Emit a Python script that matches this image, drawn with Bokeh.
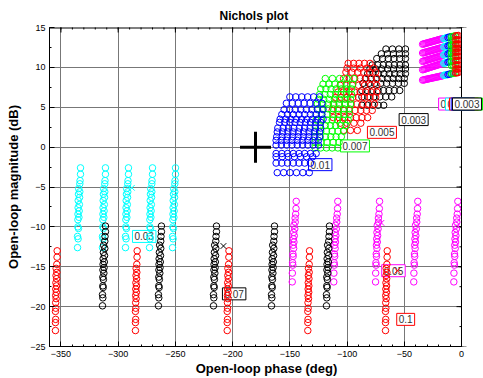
import numpy as np
from bokeh.plotting import figure
from bokeh.models import Range1d, FixedTicker, Label
from bokeh.embed import file_html
from bokeh.resources import INLINE

# ---------------- axis ticks ----------------
x_lim = [-360, 0]
y_lim = [-25, 15]
x_ticks = [-350, -300, -250, -200, -150, -100, -50, 0]
x_minor = list(range(-360, 1, 10))
y_ticks = [-25, -20, -15, -10, -5, 0, 5, 10, 15]
y_minor = [v * 2.5 for v in range(-10, 7)]

# ---------------- low-frequency templates (rows of phase points) ----------------
# 0.003 rad/s (black)
black_rows_mag = [12.3, 11.7, 11.1, 10.3, 9.8, 9.2, 8.6, 8.0, 7.1, 6.3, 5.25]
black_rows_left = [-66, -70, -74, -78, -80, -82, -84, -86, -87, -87, -87]
black_rows_right = [-49, -49, -49, -49, -49, -49, -50, -50, -54, -61, -68]
black_rows_n = [4, 5, 6, 7, 7, 8, 8, 8, 8, 6, 5]
# 0.005 rad/s (red)
red_rows_mag = [10.5, 9.9, 9.4, 8.6, 7.75, 6.9, 6.25, 5.4, 4.6, 3.7, 3.0, 2.1]
red_rows_left = [-99, -100, -101, -103, -106, -108, -110, -112, -113, -112, -106, -103]
red_rows_right = [-80, -77, -75, -74, -74, -74, -75, -76, -78, -82, -88, -91]
red_rows_n = [5, 5, 6, 7, 7, 8, 8, 8, 8, 7, 4, 3]
# 0.007 rad/s (green)
green_rows_mag = [8.6, 7.9, 7.3, 6.6, 6.0, 5.4, 4.8, 4.1, 3.4, 2.7, 2.0, 1.3, 0.6, -0.1]
green_rows_left = [-119, -121, -123, -124, -125, -126, -126, -127, -127, -128, -128, -128, -128, -128]
green_rows_right = [-94, -95, -96, -96, -97, -97, -98, -98, -99, -101, -103, -105, -107, -108]
green_rows_n = [5, 6, 7, 7, 7, 7, 7, 7, 7, 7, 6, 6, 5, 5]
# 0.01 rad/s (blue)
blue_rows_mag = [6.3, 5.5, 4.7, 4.1, 3.5, 3.1, 2.4, 1.9, 1.3, 0.85, 0.25, -0.8, -1.2, -2.0, -3.2]
blue_rows_left = [-150, -153, -155, -157, -158.5, -159, -160.5, -161, -161.5, -162, -162, -162, -162, -162, -161]
blue_rows_right = [-124, -122, -121, -122, -121, -123, -123, -124, -124, -125, -125, -127, -130, -132, -133]
blue_rows_n = [6, 7, 8, 8, 9, 9, 9, 9, 9, 9, 9, 8, 7, 7, 6]

# ---------------- higher-frequency templates (columns) ----------------
# 0.03 rad/s (cyan)
cyan_col_phase = [-335.5, -313.7, -293.6, -272.6, -252.5]
cyan_col_mag = [-2.6, -3.4, -4.2, -4.6, -5.2, -5.6, -5.9, -6.3, -6.7, -7.2, -7.6, -8.0, -8.4, -8.8, -9.1, -10.0, -10.2, -11.2, -11.5, -12.6]
cyan_col_dphase = [2.6, 2.6, 2.2, 2.0, 1.0, 2.0, 0.8, 1.8, 0.6, 1.6, 0.5, 1.4, 0.4, 1.2, 0.3, 0.3, 0.8, 0.0, 0.5, 0.0]
# 0.05 rad/s (magenta)
mag_col_phase = [-147.9, -111.6, -75.1, -41.7, -6.7]
mag_col_mag = [-6.8, -7.7, -8.4, -8.9, -9.4, -9.8, -10.25, -10.7, -11.1, -11.5, -11.9, -12.3, -12.7, -13.4, -13.7, -14.5, -14.8, -15.8, -16.9]
mag_col_dphase = [3.5, 3.3, 3.0, 2.5, 2.6, 1.5, 2.2, 1.2, 1.8, 1.0, 1.5, 0.8, 1.2, 0.6, 0.8, 0.3, 0.5, 0.1, 0.0]
# 0.07 rad/s (black)
blk_col_phase = [-313.7, -264.8, -216.7, -166.0, -118.0]
blk_col_mag = [-9.9, -10.6, -11.2, -11.8, -12.3, -12.7, -13.2, -13.6, -14.0, -14.4, -14.7, -15.1, -15.4, -15.8, -16.3, -16.6, -17.4, -17.6, -18.5, -18.9, -19.9]
blk_col_dphase = [2.6, 2.6, 2.2, 2.0, 1.0, 2.0, 0.8, 1.8, 0.6, 1.6, 0.5, 1.4, 0.4, 1.2, 0.3, 0.8, 0.3, 0.6, 0.0, 0.3, 0.0]
# 0.1 rad/s (red)
red_col_phase = [-354.8, -284.9, -204.7, -134.3, -66.4]
red_col_mag = [-13.0, -13.8, -14.7, -15.2, -15.7, -16.1, -16.5, -17.0, -17.4, -17.8, -18.2, -18.6, -19.0, -19.5, -20.2, -20.6, -21.6, -22.0, -23.0]
red_col_dphase = [1.5, 1.4, 1.2, 0.6, 1.2, 0.5, 1.0, 0.4, 0.9, 0.3, 0.8, 0.2, 0.6, 0.2, 0.3, 0.0, 0.2, 0.0, 0.0]

# ---------------- top-right templates (bands) ----------------
tr_colors = ["#ff00ff", "#00ffff", "#0000ff", "#00ff00", "#ff0000"]
tr_phase_start = [-34.0, -15.5, -11.8, -8.6, -5.0]
tr_phase_end = [-16.5, -12.3, -9.2, -5.6, -2.8]
tr_count = [20, 4, 3, 3, 3]
tr_mag_start = [[12.9, 11.8, 10.75, 9.7, 8.4],
                [13.6, 12.55, 11.55, 10.5, 9.0],
                [13.75, 12.7, 11.7, 10.65, 9.1],
                [13.85, 12.8, 11.8, 10.75, 9.2],
                [13.95, 12.9, 11.9, 10.85, 9.3]]
tr_mag_end = [[13.6, 12.5, 11.5, 10.5, 8.95],
              [13.75, 12.7, 11.7, 10.65, 9.1],
              [13.85, 12.8, 11.8, 10.75, 9.2],
              [13.95, 12.9, 11.9, 10.85, 9.3],
              [14.0, 12.95, 11.95, 10.9, 9.35]]
tr_extra_mag = [[], [], [], [13.4, 12.35, 11.35, 10.2], [13.45, 12.4, 11.4, 10.3, 9.8]]

# ---------------- markers ----------------
x_mark_phase = [-288.0, -208.0, -70.0, -56.0]
x_mark_mag = [-5.1, -12.4, -9.5, -15.5]
x_mark_color = ["#00ffff", "#000000", "#ff00ff", "#ff0000"]
crit_phase = [-180.0]
crit_mag = [0.0]

# ---------------- frequency labels ----------------
lab_text = ["0.003", "0.005", "0.007", "0.01", "0.03", "0.05", "0.07", "0.1"]
lab_phase = [-54.5, -82.2, -105.8, -133.7, -287.5, -69.7, -208.9, -56.6]
lab_mag = [2.7, 1.1, -0.6, -2.95, -11.95, -16.25, -19.15, -22.35]
lab_color = ["#000000", "#ff0000", "#00ff00", "#0000ff", "#00ffff", "#ff00ff", "#000000", "#ff0000"]
# labels of the top-right templates (drawn in this order)
tr_lab_text = ["0.05", "0.03", "0.005", "0.007", "0.01", "0.003"]
tr_lab_phase = [-20.0, -14.0, -10.5, -7.0, -9.0, -7.9]
tr_lab_mag = [4.65] * 6
tr_lab_color = ["#ff00ff", "#00ffff", "#ff0000", "#00ff00", "#0000ff", "#000000"]

FONT = "Liberation Sans"
FRAME_L, FRAME_W, BOX_W = 49, 434, 412          # pixels: frame start, frame width, axes-box width
x_view_right = x_lim[1] + (FRAME_W - BOX_W) * (x_lim[1] - x_lim[0]) / BOX_W

p = figure(width=483, height=378, x_range=Range1d(x_lim[0], x_view_right), y_range=Range1d(*y_lim),
           output_backend="svg", toolbar_location=None, title="Nichols plot",
           min_border_left=FRAME_L, min_border_right=0, min_border_top=27, min_border_bottom=31)
p.background_fill_color = "white"
p.border_fill_color = "white"
p.outline_line_color = None
p.title.align = "left"
p.title.offset = 170
p.title.text_font = FONT
p.title.text_font_size = "12px"
p.title.text_font_style = "bold"
p.title.text_color = "black"
p.title.standoff = 10

for ax in (p.xaxis[0], p.yaxis[0]):
    ax.major_tick_in = 5
    ax.major_tick_out = 0
    ax.minor_tick_in = 2
    ax.minor_tick_out = 0
    ax.axis_line_color = "black"
    ax.major_tick_line_color = "black"
    ax.minor_tick_line_color = "black"
    ax.major_label_text_font = FONT
    ax.major_label_text_font_size = "9px"
    ax.major_label_text_color = "black"
    ax.axis_label_text_font = FONT
    ax.axis_label_text_font_size = "13px"
    ax.axis_label_text_font_style = "bold"
    ax.axis_label_text_color = "black"

p.xaxis.bounds = (x_lim[0], x_lim[1])
p.xaxis.ticker = FixedTicker(ticks=x_ticks, minor_ticks=x_minor)
p.yaxis.ticker = FixedTicker(ticks=y_ticks, minor_ticks=y_minor)
p.xaxis.axis_label = "Open-loop phase (deg)"
p.yaxis.axis_label = "Open-loop magnitude (dB)"
p.xaxis.major_label_standoff = 4
p.xaxis.axis_label_standoff = 1
p.yaxis.major_label_standoff = 4
p.yaxis.axis_label_standoff = 6

p.grid.grid_line_color = "#777777"
p.grid.grid_line_width = 1
p.xgrid.ticker = FixedTicker(ticks=x_ticks)
p.ygrid.ticker = FixedTicker(ticks=y_ticks)

# labels under the markers, as in the reference
for t, xx, yy, c in zip(lab_text, lab_phase, lab_mag, lab_color):
    p.add_layout(Label(x=xx, y=yy, text=t, text_font=FONT, text_font_size="10px",
                       text_color="#333333", text_align="left", text_baseline="bottom",
                       border_line_color=c, border_line_width=1,
                       background_fill_color="white", padding=2, level="underlay"))


def rows(mags, lefts, rights, ns):
    xs, ys = [], []
    for m, a, b, n in zip(mags, lefts, rights, ns):
        xs.extend(np.linspace(a, b, n).tolist())
        ys.extend([m] * n)
    return xs, ys


def cols(bases, mags, dph):
    xs, ys = [], []
    for b in bases:
        xs.extend([b + d for d in dph])
        ys.extend(mags)
    return xs, ys


# inward ticks on top and right edges (outer halves are clipped / covered)
p.scatter(x_ticks, [y_lim[1]] * len(x_ticks), marker="dash", angle=np.pi / 2, size=10, line_color="black")
p.scatter(x_minor, [y_lim[1]] * len(x_minor), marker="dash", angle=np.pi / 2, size=4, line_color="black")
p.scatter([x_lim[1]] * len(y_ticks), y_ticks, marker="dash", size=10, line_color="black")
p.scatter([x_lim[1]] * len(y_minor), y_minor, marker="dash", size=4, line_color="black")

MS = 6.5
for (mags, le, ri, n), col in (((black_rows_mag, black_rows_left, black_rows_right, black_rows_n), "#000000"),
                               ((red_rows_mag, red_rows_left, red_rows_right, red_rows_n), "#ff0000"),
                               ((green_rows_mag, green_rows_left, green_rows_right, green_rows_n), "#00ff00"),
                               ((blue_rows_mag, blue_rows_left, blue_rows_right, blue_rows_n), "#0000ff")):
    xs, ys = rows(mags, le, ri, n)
    p.scatter(xs, ys, marker="circle", size=MS, fill_color=None, line_color=col, line_width=1)

for (b, m, d), col in (((cyan_col_phase, cyan_col_mag, cyan_col_dphase), "#00ffff"),
                       ((mag_col_phase, mag_col_mag, mag_col_dphase), "#ff00ff"),
                       ((blk_col_phase, blk_col_mag, blk_col_dphase), "#000000"),
                       ((red_col_phase, red_col_mag, red_col_dphase), "#ff0000")):
    xs, ys = cols(b, m, d)
    p.scatter(xs, ys, marker="circle", size=MS, fill_color=None, line_color=col, line_width=1)

for i, col in enumerate(tr_colors):
    xs, ys = [], []
    ph = np.linspace(tr_phase_start[i], tr_phase_end[i], tr_count[i]).tolist()
    for ms_, me_ in zip(tr_mag_start[i], tr_mag_end[i]):
        xs.extend(ph)
        ys.extend(np.linspace(ms_, me_, tr_count[i]).tolist())
    for em in tr_extra_mag[i]:
        xs.extend(ph)
        ys.extend([em] * len(ph))
    p.scatter(xs, ys, marker="circle", size=MS, fill_color=None, line_color=col, line_width=1)

p.scatter(x_mark_phase, x_mark_mag, marker="x", size=8, line_color=x_mark_color, line_width=1)
p.scatter(crit_phase, crit_mag, marker="cross", size=31, line_color="black", line_width=3)

# blank margin to the right of the axes box, then the box edges
p.quad(left=[x_lim[1]], right=[x_view_right], bottom=[y_lim[0]], top=[y_lim[1]],
       fill_color="white", line_color=None)
p.line([x_lim[1], x_lim[1]], y_lim, line_color="black", line_width=1)
p.line(x_lim, [y_lim[1], y_lim[1]], line_color="black", line_width=2)

for t, xx, yy, c in zip(tr_lab_text, tr_lab_phase, tr_lab_mag, tr_lab_color):
    p.add_layout(Label(x=xx, y=yy, text=t, text_font=FONT, text_font_size="10px",
                       text_color="#333333", text_align="left", text_baseline="bottom",
                       border_line_color=c, border_line_width=1,
                       background_fill_color="white", padding=2))

open("out.html", "w").write(file_html(p, INLINE))
